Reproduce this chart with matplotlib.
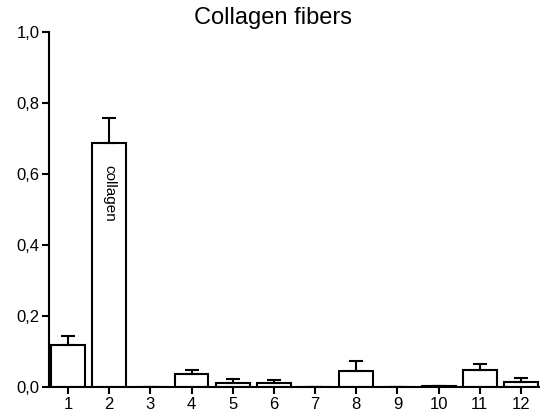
import matplotlib
matplotlib.use("Agg")
import matplotlib.pyplot as plt

plt.rcParams['font.family'] = ['Liberation Sans', 'DejaVu Sans']

groups = [1, 2, 3, 4, 5, 6, 7, 8, 9, 10, 11, 12]
means = [0.117, 0.687, 0.0, 0.037, 0.012, 0.011, 0.0, 0.044, 0.0, 0.002, 0.047, 0.015]
errs = [0.028, 0.072, 0.0, 0.012, 0.011, 0.009, 0.0, 0.029, 0.0, 0.002, 0.017, 0.009]
ytick_vals = [0.0, 0.2, 0.4, 0.6, 0.8, 1.0]
ytick_labels = ["0,0", "0,2", "0,4", "0,6", "0,8", "1,0"]
title = "Collagen fibers"
bar_label = "collagen"

fig = plt.figure(figsize=(5.4, 4.12), dpi=100)
W, H = 540, 412
ax = fig.add_axes([49 / W, (H - 387) / H, (540 - 49) / W, (387 - 32) / H])

lower = [0] * len(errs)
ax.bar(groups, means, width=0.82, facecolor='white', edgecolor='black',
       linewidth=1.5, yerr=[lower, errs],
       error_kw=dict(ecolor='black', elinewidth=1.5, capsize=4.8, capthick=1.5))

ax.set_xlim(0.54, 12.46)
ax.set_ylim(0, 1.0)
ax.set_xticks(groups)
ax.set_xticklabels([str(g) for g in groups], fontsize=12)
ax.set_yticks(ytick_vals)
ax.set_yticklabels(ytick_labels, fontsize=12)

for s in ['top', 'right']:
    ax.spines[s].set_visible(False)
for s in ['left', 'bottom']:
    ax.spines[s].set_linewidth(1.5)
ax.tick_params(axis='both', direction='out', length=5, width=1.5, pad=2)

ax.text(2, 0.546, bar_label, rotation=270, ha='center', va='center', fontsize=11)

fig.text(273 / W, 1 - 18 / H, title, ha='center', va='center', fontsize=17)

fig.savefig("out.png", dpi=100)
